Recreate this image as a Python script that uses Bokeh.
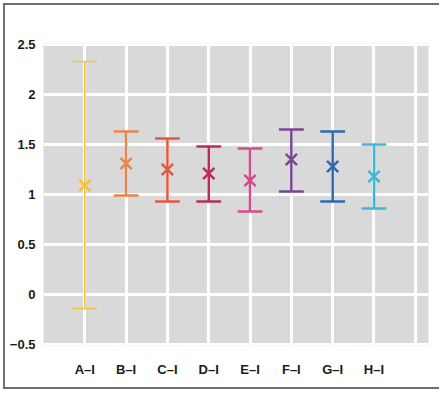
from bokeh.plotting import figure
from bokeh.models import FixedTicker, Range1d
from bokeh.embed import file_html
from bokeh.resources import INLINE

categories = ["A–I", "B–I", "C–I", "D–I", "E–I", "F–I", "G–I", "H–I"]
means = [1.09, 1.31, 1.25, 1.21, 1.14, 1.35, 1.28, 1.18]
upper = [2.33, 1.63, 1.56, 1.48, 1.46, 1.65, 1.63, 1.50]
lower = [-0.14, 0.99, 0.93, 0.93, 0.83, 1.03, 0.93, 0.86]
colors = ["#F4C23E", "#E8854C", "#E4573D", "#B82B5B", "#D8488E", "#7A4693", "#2F69B2", "#3CB7D4"]
y_ticks = [-0.5, 0, 0.5, 1, 1.5, 2, 2.5]
y_labels = ["−0.5", "0", "0.5", "1", "1.5", "2", "2.5"]

xs = list(range(1, len(categories) + 1))

p = figure(width=436, height=386, output_backend="svg", toolbar_location=None,
           x_range=Range1d(0, 9.32), y_range=Range1d(-0.51, 2.51),
           min_border_left=38, min_border_right=13, min_border_top=38, min_border_bottom=46,
           styles={"border": "2px solid #6e6e6e", "border-right": "none",
                   "margin-left": "3px", "margin-top": "3px"})
p.background_fill_color = "#DAD9DA"
p.border_fill_color = "white"
p.outline_line_color = None

p.xaxis.ticker = FixedTicker(ticks=xs + [9])
p.xaxis.major_label_overrides = {**{x: c for x, c in zip(xs, categories)}, 9: ""}
p.yaxis.ticker = FixedTicker(ticks=y_ticks)
p.yaxis.major_label_overrides = {t: l for t, l in zip(y_ticks, y_labels)}

for ax in (p.xaxis[0], p.yaxis[0]):
    ax.axis_line_color = None
    ax.major_tick_line_color = None
    ax.minor_tick_line_color = None
    ax.major_label_text_font = "Liberation Sans"
    ax.major_label_text_font_size = "13px"
    ax.major_label_text_font_style = "bold"
    ax.major_label_text_color = "#1a1a1a"
p.xaxis.major_label_standoff = 10
p.yaxis.major_label_standoff = 2

p.xgrid.grid_line_color = "white"
p.xgrid.grid_line_width = 3
p.ygrid.grid_line_color = "white"
p.ygrid.grid_line_width = 3

half = 0.3
for i, (x, m, u, l, c) in enumerate(zip(xs, means, upper, lower, colors)):
    lw = 1.6 if i == 0 else 2.5
    p.segment(x0=[x], y0=[l], x1=[x], y1=[u], line_color=c, line_width=lw)
    p.segment(x0=[x - half, x - half], y0=[u, l], x1=[x + half, x + half], y1=[u, l],
              line_color=c, line_width=lw)
    p.scatter(x=[x], y=[m], marker="x", size=16, line_color=c, line_width=2.5)

open("out.html", "w").write(file_html(p, INLINE))
